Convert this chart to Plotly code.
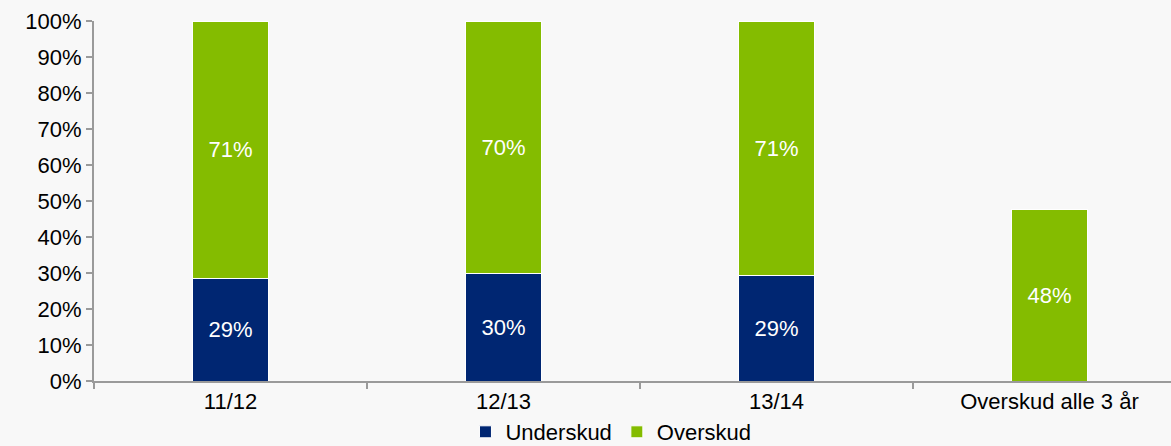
import plotly.graph_objects as go

categories = ["11/12", "12/13", "13/14", "Overskud alle 3 år"]
underskud = [0.286, 0.298, 0.294, None]
overskud = [0.714, 0.702, 0.706, 0.476]
y_ticks = [i / 10 for i in range(11)]
y_tick_labels = [f"{i * 10}%" for i in range(11)]

NAVY = "#002672"
GREEN = "#84bc00"
BG = "#f8f8f8"
AXIS = "#9a9a9a"
FONT = "Liberation Sans, Arial, sans-serif"

fig = go.Figure()
fig.add_trace(go.Bar(
    x=categories, y=underskud, name="Underskud",
    marker=dict(color=NAVY, line=dict(color="white", width=1)),
    texttemplate="%{y:.0%}", textposition="inside", insidetextanchor="middle",
    textfont=dict(color="white", size=22, family=FONT),
    width=0.277,
))
fig.add_trace(go.Bar(
    x=categories, y=overskud, name="Overskud",
    marker=dict(color=GREEN, line=dict(color="white", width=1)),
    texttemplate="%{y:.0%}", textposition="inside", insidetextanchor="middle",
    textfont=dict(color="white", size=22, family=FONT),
    width=0.277,
))

fig.update_layout(
    barmode="stack",
    width=1171, height=446,
    margin=dict(l=94, r=0, t=21, b=65, autoexpand=False),
    paper_bgcolor=BG, plot_bgcolor=BG,
    font=dict(family=FONT, size=22, color="#000000"),
    showlegend=True,
    legend=dict(orientation="h", x=0.48, xanchor="center",
                yref="container", y=(446 - 432) / 446, yanchor="middle",
                font=dict(size=22), itemwidth=30, traceorder="normal",
                bgcolor="rgba(0,0,0,0)"),
    uniformtext=dict(mode="show", minsize=10),
)
fig.update_xaxes(
    range=[-0.5, -0.5 + (1171 - 94) / 273],
    showline=True, linecolor=AXIS, linewidth=2,
    ticks="outside", tickson="boundaries", ticklen=6, tickcolor=AXIS, tickwidth=2,
    showgrid=False, zeroline=False,
    tickfont=dict(size=22),
)
fig.update_yaxes(
    range=[0, 1.0],
    tickvals=y_ticks, ticktext=y_tick_labels,
    showline=True, linecolor=AXIS, linewidth=2,
    ticks="outside", ticklen=6, tickcolor=AXIS, tickwidth=2,
    showgrid=False, zeroline=False,
    tickfont=dict(size=22),
)

fig.write_html(
    "out.html",
    config={"displayModeBar": False},
    post_script="document.body.style.margin='0';document.body.style.padding='0';document.body.style.background='" + BG + "';",
)
